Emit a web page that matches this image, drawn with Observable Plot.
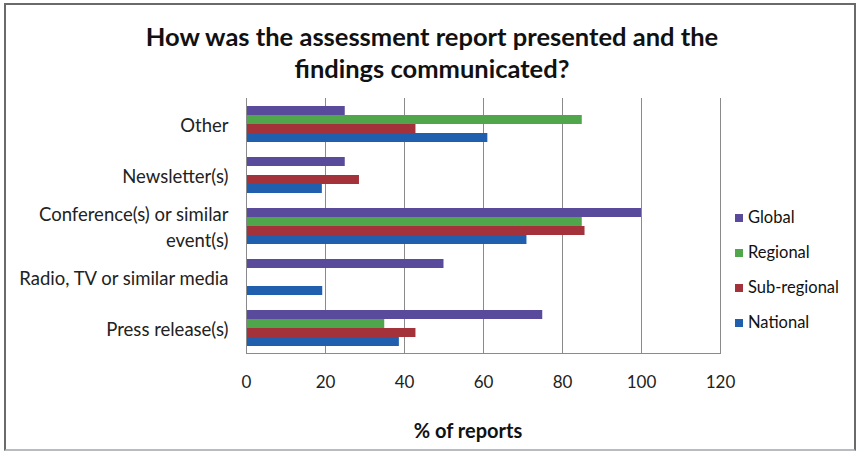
<!DOCTYPE html>
<html>
<head>
<meta charset="utf-8">
<script src="https://cdn.jsdelivr.net/npm/d3@7"></script>
<script src="https://cdn.jsdelivr.net/npm/@observablehq/plot@0.6"></script>
<style>
  html, body { margin: 0; padding: 0; background: #fff; }
  body { width: 857px; height: 452px; position: relative; overflow: hidden; font-family: Lato, "Open Sans", sans-serif; }
  #frame { position: absolute; left: 4px; top: 3px; width: 848px; height: 444px; border: 2px solid #6a6a6a; border-bottom-color: #b8bcc0; box-sizing: content-box; }
  #title { position: absolute; left: 0; width: 864px; top: 20px; text-align: center; font-weight: bold; font-size: 25.5px; line-height: 32px; color: #111; }
  #chart { position: absolute; left: 0; top: 0; }
  #chart svg text { fill: #222; }
  #xlabel { position: absolute; left: 368px; width: 200px; top: 418px; text-align: center; font-weight: bold; font-size: 20px; color: #111; }
  #legend { position: absolute; left: 735px; top: 207px; font-size: 16.5px; color: #111; }
  #legend .item { height: 35px; display: flex; align-items: flex-start; }
  #legend .sw { width: 8px; height: 8px; margin-top: 7px; margin-right: 5px; }
</style>
</head>
<body>
<div id="chart"></div>
<div id="frame"></div>
<div id="title">How was the assessment report presented and the<br>findings communicated?</div>
<div id="xlabel">% of reports</div>
<div id="legend"></div>
<script>
// Data
const categories = ["Other", "Newsletter(s)", "Conference(s) or similar event(s)", "Radio, TV or similar media", "Press release(s)"];
const categoryLabels = ["Other", "Newsletter(s)", "Conference(s) or similar\nevent(s)", "Radio, TV or similar media", "Press release(s)"];
const seriesNames = ["Global", "Regional", "Sub-regional", "National"];
const seriesColors = ["#5a4a9c", "#4fa64b", "#a3323b", "#1f5fad"];
const globalValues = [25, 25, 100, 50, 75];
const regionalValues = [85, null, 85, null, 35];
const subRegionalValues = [42.9, 28.6, 85.7, null, 42.9];
const nationalValues = [61.1, 19.2, 71, 19.3, 38.7];
const xTicks = [0, 20, 40, 60, 80, 100, 120];

const seriesValues = [globalValues, regionalValues, subRegionalValues, nationalValues];
const rows = [];
categories.forEach((c, i) => {
  seriesNames.forEach((s, j) => {
    const v = seriesValues[j][i];
    if (v != null) rows.push({category: c, series: s, value: v});
  });
});
const labelOf = new Map(categories.map((c, i) => [c, categoryLabels[i]]));

const chart = Plot.plot({
  width: 857,
  height: 452,
  marginLeft: 246,
  marginRight: 137,
  marginTop: 97,
  marginBottom: 98,
  style: {fontFamily: "Lato, 'Open Sans', sans-serif", fontSize: "17px", color: "#8a8a8a", background: "transparent"},
  x: {domain: [0, 120], ticks: xTicks, tickSize: 0, tickPadding: 22, line: true, label: null},
  y: {domain: seriesNames, axis: null, paddingInner: 0, paddingOuter: 0.73},
  fy: {domain: categories, axis: null, padding: 0},
  color: {domain: seriesNames, range: seriesColors},
  marks: [
    Plot.ruleX(xTicks.filter(t => t > 0), {stroke: "#8a8a8a", strokeWidth: 1}),
    Plot.barX(rows, {fy: "category", y: "series", x: "value", fill: "series"}),
    Plot.ruleX([0], {stroke: "#8a8a8a", strokeWidth: 1}),
    Plot.text(categories, {fy: d => d, text: d => labelOf.get(d), frameAnchor: "left", textAnchor: "end", dx: -18, fontSize: 18.5, lineHeight: 1.38})
  ]
});
document.getElementById("chart").appendChild(chart);

// Legend
const legend = document.getElementById("legend");
seriesNames.forEach((s, i) => {
  const item = document.createElement("div");
  item.className = "item";
  const sw = document.createElement("span");
  sw.className = "sw";
  sw.style.background = seriesColors[i];
  const tx = document.createElement("span");
  tx.textContent = s;
  item.appendChild(sw);
  item.appendChild(tx);
  legend.appendChild(item);
});
</script>
</body>
</html>
